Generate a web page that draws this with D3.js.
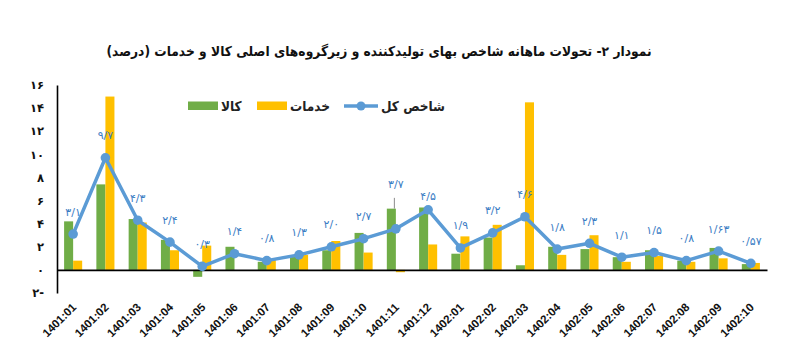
<!DOCTYPE html>
<html><head><meta charset="utf-8">
<script src="https://cdnjs.cloudflare.com/ajax/libs/d3/7.8.5/d3.min.js"></script>
<style>
html,body{margin:0;padding:0;background:#fff;}
svg{display:block;}
</style></head>
<body>
<svg id="chart" width="799" height="357"></svg>
<script>
const titleText = "نمودار ۲- تحولات ماهانه شاخص بهای تولیدکننده  و زیرگروه‌های اصلی کالا و خدمات (درصد)";
const categories = ["1401:01","1401:02","1401:03","1401:04","1401:05","1401:06","1401:07","1401:08","1401:09","1401:10","1401:11","1401:12","1402:01","1402:02","1402:03","1402:04","1402:05","1402:06","1402:07","1402:08","1402:09","1402:10"];
const goods    = [4.2, 7.4, 4.4, 2.6, -0.6, 2.0, 0.7, 1.2, 1.7, 3.2, 5.3, 5.4, 1.4, 2.8, 0.4, 2.0, 1.8, 1.1, 1.7, 0.8, 1.9, 0.5];
const services = [0.8, 15.0, 4.1, 1.7, 2.1, 0.0, 0.9, 1.3, 2.5, 1.5, -0.2, 2.2, 2.9, 3.9, 14.5, 1.3, 3.0, 0.7, 1.2, 0.7, 1.0, 0.6];
const total    = [3.1, 9.7, 4.3, 2.4, 0.3, 1.4, 0.8, 1.3, 2.0, 2.7, 3.55, 5.2, 1.9, 3.2, 4.6, 1.8, 2.3, 1.1, 1.5, 0.8, 1.63, 0.57];
const totalLabels = ["۳/۱","۹/۷","۴/۳","۲/۴","۰/۳","۱/۴","۰/۸","۱/۳","۲/۰","۲/۷","۳/۷","۴/۵","۱/۹","۳/۲","۴/۶","۱/۸","۲/۳","۱/۱","۱/۵","۰/۸","۱/۶۳","۰/۵۷"];
const yTicks = [-2, 0, 2, 4, 6, 8, 10, 12, 14, 16];
const seriesNames = ["کالا", "خدمات", "شاخص کل"];

const colors = {goods:"#70ad47", services:"#ffc000", total:"#5b9bd5", label:"#3b7dc4"};
const faDigits = "۰۱۲۳۴۵۶۷۸۹";
const toFa = s => String(s).replace(/[0-9]/g, d => faDigits[+d]);

const svg = d3.select("#chart");
const M = {left:57, right:767, top:85, bottom:293};

const x0 = d3.scaleBand().domain(categories).range([M.left, M.right]).paddingInner(0.44).paddingOuter(0.22);
const x1 = d3.scaleBand().domain(["goods","services"]).range([0, x0.bandwidth()]);
const y = d3.scaleLinear().domain([-2, 16]).range([M.bottom, M.top]);
const cx = c => x0(c) + x0.bandwidth()/2;

// title
const title = svg.append("text").attr("x", 379).attr("y", 56).attr("text-anchor","middle")
  .attr("font-family","DejaVu Sans Condensed, DejaVu Sans").attr("font-weight","bold").attr("font-size",14)
  .attr("direction","rtl").style("unicode-bidi","embed").attr("fill","#111").text(titleText);
{
  const w = title.node().getComputedTextLength();
  title.attr("font-size", 14 * 546 / w);
}

// bars
const rows = categories.map((c,i)=>({c, goods:goods[i], services:services[i]}));
const g = svg.append("g");
["goods","services"].forEach(k=>{
  g.selectAll("rect."+k).data(rows).join("rect").attr("class",k)
    .attr("x", d=>x0(d.c)+x1(k)).attr("width", x1.bandwidth())
    .attr("y", d=>y(Math.max(0,d[k]))).attr("height", d=>Math.abs(y(d[k])-y(0)))
    .attr("fill", colors[k]);
});

// y axis
const yAxis = d3.axisLeft(y).tickValues(yTicks).tickSize(0).tickPadding(13)
  .tickFormat(v => v < 0 ? toFa(-v) + "-" : toFa(v));
const ya = svg.append("g").attr("transform",`translate(${M.left},0)`).call(yAxis);
ya.select(".domain").attr("stroke","#000").attr("stroke-width",1.6);
ya.selectAll("text").attr("font-family","DejaVu Sans").attr("font-weight","bold").attr("font-size",11.5).attr("fill","#111");

// x axis at zero
const xAxis = d3.axisBottom(x0).tickSize(0).tickPadding(0);
const xa = svg.append("g").attr("transform",`translate(0,${y(0)})`).call(xAxis);
xa.select(".domain").attr("stroke","#000").attr("stroke-width",1.8);
xa.selectAll("text").remove();
const xl = svg.append("g");
xl.selectAll("text").data(categories).join("text")
  .attr("transform", c=>`translate(${cx(c)+4},${y(-2)+15}) rotate(-45)`)
  .attr("text-anchor","end").attr("font-family","Liberation Sans").attr("font-weight","bold")
  .attr("font-size",11.5).attr("fill","#111").text(c=>c);

// leader line for 1401:11 label
const iLead = categories.indexOf("1401:11");
svg.append("line").attr("x1", cx(categories[iLead])-1.5).attr("x2", cx(categories[iLead])-1.5)
  .attr("y1", y(total[iLead]) - 31).attr("y2", y(goods[iLead]))
  .attr("stroke","#8c8c8c").attr("stroke-width",1);

// line
const pts = categories.map((c,i)=>({c, v:total[i], l:totalLabels[i]}));
svg.append("path").datum(pts)
  .attr("d", d3.line().x(d=>cx(d.c)).y(d=>y(d.v)))
  .attr("fill","none").attr("stroke",colors.total).attr("stroke-width",3.5).attr("stroke-linejoin","round");
svg.selectAll("circle.pt").data(pts).join("circle").attr("class","pt")
  .attr("cx", d=>cx(d.c)).attr("cy", d=>y(d.v)).attr("r",4.8).attr("fill",colors.total);

// labels
const labelOffset = (d,i) => i === iLead ? 41 : (categories[i] === "1401:12" ? 9.5 : 18.5);
svg.selectAll("text.lab").data(pts).join("text").attr("class","lab")
  .attr("x", d=>cx(d.c)).attr("y", (d,i)=>y(d.v) - labelOffset(d,i))
  .attr("text-anchor","middle").attr("font-family","DejaVu Sans").attr("font-size",11)
  .attr("fill",colors.label).text(d=>d.l);

// legend
const lg = svg.append("g").attr("font-family","DejaVu Sans Condensed, DejaVu Sans").attr("font-size",13.5).attr("font-weight","bold").attr("fill","#222");
lg.append("rect").attr("x",188).attr("y",101.5).attr("width",30).attr("height",8.5).attr("fill",colors.goods);
lg.append("text").attr("x",221).attr("y",111).text(seriesNames[0]);
lg.append("rect").attr("x",257).attr("y",101.5).attr("width",30).attr("height",8.5).attr("fill",colors.services);
lg.append("text").attr("x",290).attr("y",111).text(seriesNames[1]);
lg.append("line").attr("x1",344).attr("x2",378).attr("y1",106).attr("y2",106).attr("stroke",colors.total).attr("stroke-width",3.5);
lg.append("circle").attr("cx",361).attr("cy",106).attr("r",4.5).attr("fill",colors.total);
lg.append("text").attr("x",381).attr("y",111).text(seriesNames[2]);
</script>
</body></html>
